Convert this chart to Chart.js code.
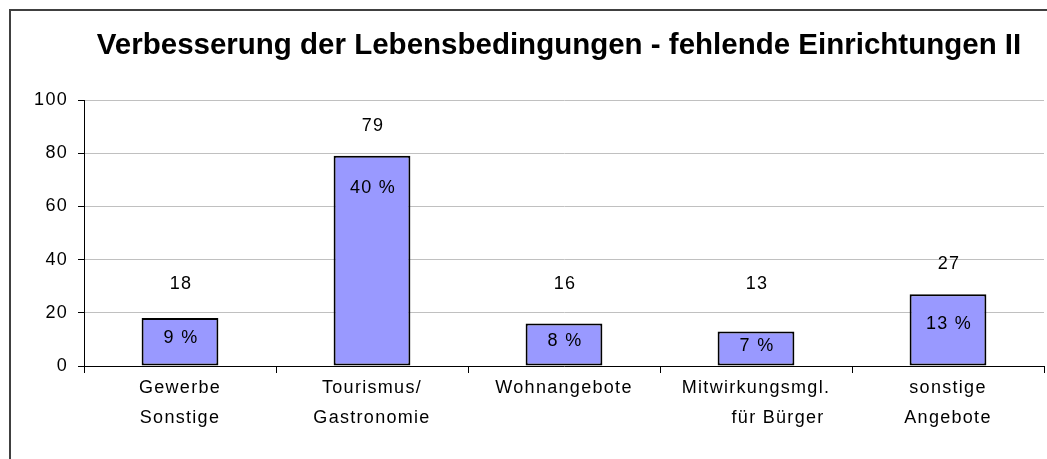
<!DOCTYPE html>
<html>
<head>
<meta charset="utf-8">
<script src="https://cdn.jsdelivr.net/npm/chart.js@4/dist/chart.umd.min.js"></script>
<style>
  html, body { margin: 0; padding: 0; background: #fff; }
  #wrap { width: 1047px; height: 459px; position: relative; }
</style>
</head>
<body>
<div id="wrap"><canvas id="c" width="1047" height="459"></canvas></div>
<script>
const titleText = 'Verbesserung der Lebensbedingungen - fehlende Einrichtungen II';
const categories = [
  ['Gewerbe', 'Sonstige'],
  ['Tourismus/', 'Gastronomie'],
  ['Wohnangebote'],
  ['Mitwirkungsmgl.', '       für Bürger'],
  ['sonstige', 'Angebote']
];
const counts = [18, 79, 16, 13, 27];
const percentLabels = ['9 %', '40 %', '8 %', '7 %', '13 %'];
const yTicks = [0, 20, 40, 60, 80, 100];

const FONT = "'Liberation Sans', Arial, Helvetica, sans-serif";
const SPACING = '1.3px';

const frameAndTitle = {
  id: 'frameAndTitle',
  beforeDraw(chart) {
    const ctx = chart.ctx;
    ctx.save();
    ctx.fillStyle = '#fff';
    ctx.fillRect(0, 0, chart.width, chart.height);
    ctx.strokeStyle = '#404040';
    ctx.lineWidth = 2;
    ctx.strokeRect(10, 10, 1060, 480);
    ctx.restore();
    ctx.letterSpacing = SPACING;
  },
  afterDraw(chart) {
    const ctx = chart.ctx;
    const a = chart.chartArea;
    ctx.save();
    ctx.letterSpacing = '0px';
    ctx.fillStyle = '#000';
    ctx.font = "bold 29.5px " + FONT;
    ctx.textAlign = 'center';
    ctx.textBaseline = 'middle';
    ctx.fillText(titleText, (a.left + a.right) / 2 - 5, 46);
    ctx.restore();
  }
};

const barLabels = {
  id: 'barLabels',
  afterDatasetsDraw(chart) {
    const ctx = chart.ctx;
    const meta = chart.getDatasetMeta(0);
    const ys = chart.scales.y;
    ctx.save();
    ctx.letterSpacing = SPACING;
    ctx.fillStyle = '#000';
    ctx.font = "18px " + FONT;
    ctx.textAlign = 'center';
    ctx.textBaseline = 'middle';
    meta.data.forEach((bar, i) => {
      const top = bar.y;
      const h = bar.base - bar.y;
      const vy = Math.min(top - 30, ys.getPixelForValue(31));
      ctx.fillText(String(counts[i]), bar.x + 1, vy);
      ctx.fillText(percentLabels[i], bar.x + 1, top + Math.min(32, h * 0.4 + 1));
    });
    ctx.restore();
  }
};

new Chart(document.getElementById('c'), {
  type: 'bar',
  data: {
    labels: categories,
    datasets: [{
      data: counts,
      backgroundColor: '#9999ff',
      borderColor: '#000',
      borderWidth: 2,
      borderSkipped: false,
      barPercentage: 0.4,
      categoryPercentage: 1.0
    }]
  },
  options: {
    responsive: false,
    animation: false,
    events: [],
    layout: { padding: { left: 10, right: 3, top: 100, bottom: 0 } },
    plugins: {
      legend: { display: false },
      title: { display: false },
      tooltip: { enabled: false }
    },
    scales: {
      x: {
        offset: true,
        grid: {
          offset: true,
          display: true,
          drawOnChartArea: true,
          color: (c) => c.index === categories.length ? '#c0c0c0' : 'rgba(0,0,0,0)',
          tickColor: '#000',
          tickLength: 7,
          lineWidth: 1
        },
        border: { display: true, color: '#000', width: 1 },
        ticks: {
          color: '#000',
          font: { family: FONT, size: 18, lineHeight: 1.67 },
          padding: 0,
          maxRotation: 0,
          autoSkip: false
        },
        afterFit(s) { s.height = 93; }
      },
      y: {
        min: 0,
        max: 100,
        afterBuildTicks(s) { s.ticks = yTicks.map(v => ({ value: v })); },
        grid: {
          color: '#c0c0c0',
          tickColor: '#000',
          tickLength: 6,
          lineWidth: 1
        },
        border: { display: true, color: '#000', width: 1 },
        ticks: {
          color: '#000',
          font: { family: FONT, size: 18 },
          padding: 10
        },
        afterFit(s) { s.width = 74; }
      }
    }
  },
  plugins: [frameAndTitle, barLabels]
});
</script>
</body>
</html>
